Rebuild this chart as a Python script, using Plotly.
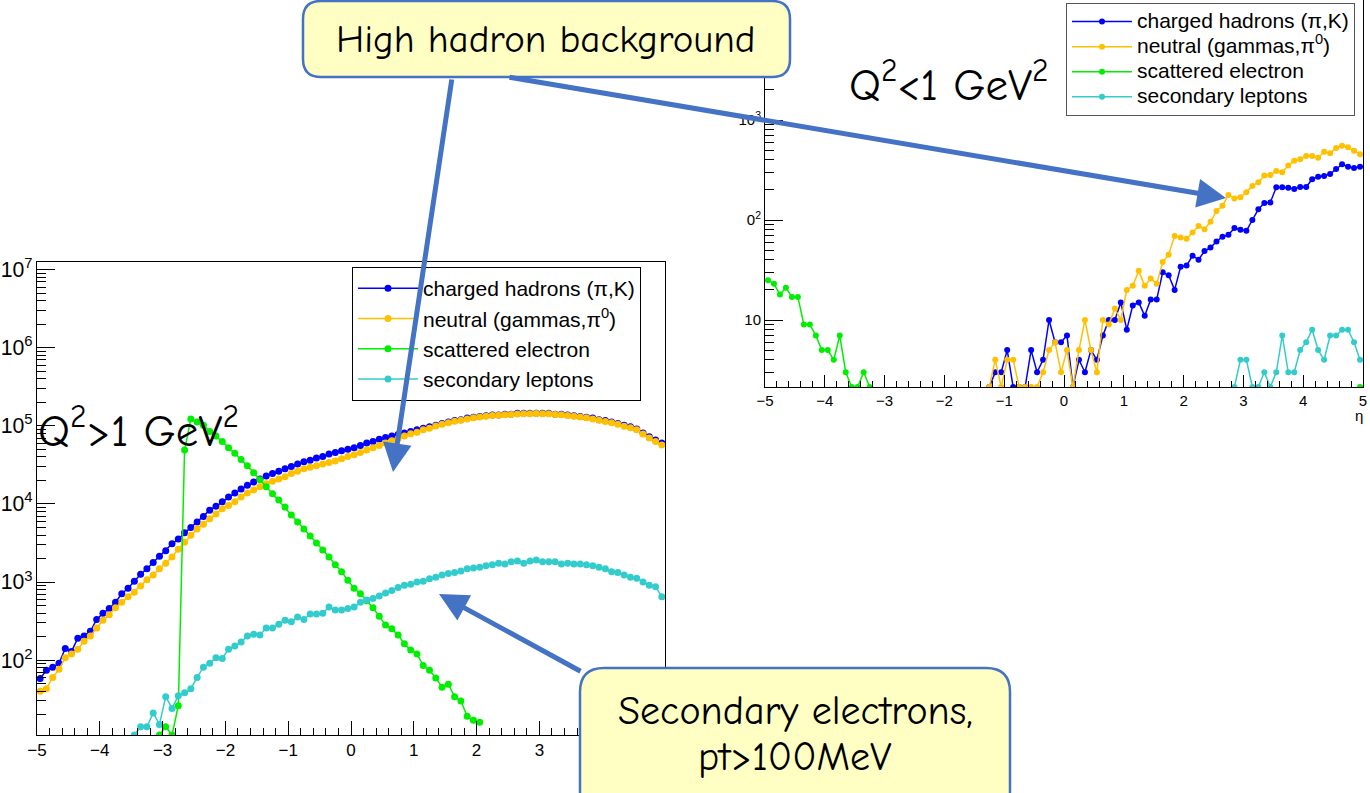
import numpy as np
import plotly.graph_objects as go

# ---------------- data (counts per eta bin, bin width 0.1) ----------------
eta = np.round(np.arange(-4.95, 5.0, 0.1), 2)   # bin centres
N = None

# Q^2 > 1 GeV^2  (left panel)
left_charged = [58, 74, 81, 91, 141, 129, 191, 204, 234, 331,
                398, 457, 550, 708, 832, 1020, 1260, 1480, 1780, 2140,
                2510, 3090, 3550, 4270, 5010, 5890, 6920, 8320, 9330, 10700,
                12300, 13800, 15500, 17400, 19100, 20900, 22900, 24500, 26300, 28200,
                30200, 32400, 34700, 36300, 38900, 40700, 43700, 45700, 47900, 50100,
                52500, 56200, 60300, 63100, 67600, 70800, 74100, 77600, 81300, 85100,
                89100, 93300, 97700, 102000, 107000, 112000, 117000, 120000, 126000, 129000,
                132000, 135000, 138000, 138000, 141000, 141000, 145000, 145000, 145000, 145000,
                145000, 145000, 141000, 141000, 138000, 135000, 132000, 129000, 126000, 120000,
                117000, 112000, 107000, 102000, 97700, 91200, 81300, 72400, 66100, 60300]
left_neutral = [40, 43, 60, 76, 107, 120, 138, 174, 204, 257,
                324, 380, 468, 550, 646, 741, 891, 1070, 1230, 1480,
                1740, 2090, 2630, 3240, 3980, 4790, 5500, 6460, 7410, 8710,
                9550, 10700, 12300, 13800, 15100, 16600, 18200, 19500, 20900, 22400,
                24500, 26300, 28200, 29500, 30900, 32400, 33900, 35500, 38000, 40700,
                42700, 45700, 49000, 52500, 56200, 60300, 64600, 69200, 74100, 79400,
                83200, 89100, 93300, 100000, 105000, 110000, 115000, 118000, 123000, 127000,
                130000, 133000, 136000, 137000, 139000, 140000, 142000, 143000, 143000, 144000,
                143000, 143000, 140000, 139000, 136000, 133000, 130000, 127000, 123000, 118000,
                114000, 110000, 105000, 99000, 95000, 89000, 79000, 70000, 63000, 57000]
left_scattered = [N] * 10 + \
                 [N] * 9 + [10] + \
                 [14, 10, 26, 49000, 123000, 112000, 102000, 85100, 74100, 63100,
                  52500, 44700, 37200, 30900, 25100, 20400, 16600, 13500, 11200, 9120,
                  7240, 5890, 4790, 3890, 3160, 2570, 2090, 1660, 1350, 1050,
                  832, 708, 575, 468, 363, 282, 251, 209, 162, 135,
                  120, 85, 74, 59, 45, 49, 34, 30, 19, 17,
                  16] + [N] * 29
left_secondary = [N] * 10 + \
                 [N] * 5 + [10, 14, 14, 21, 15] + \
                 [34, 24, 35, 38, 43, 60, 81, 91, 107, 105,
                  138, 151, 170, 204, 214, 209, 257, 257, 288, 324,
                  309, 355, 331, 389, 389, 398, 479, 437, 437, 457,
                  479, 550, 589, 617, 661, 724, 776, 851, 912, 933,
                  1000, 1020, 1100, 1150, 1230, 1290, 1320, 1380, 1480, 1510,
                  1550, 1620, 1660, 1740, 1700, 1820, 1860, 1740, 1860, 1910,
                  1820, 1820, 1820, 1700, 1740, 1700, 1700, 1660, 1620, 1550,
                  1480, 1350, 1320, 1230, 1150, 1120, 1000, 912, 871, 646]

# Q^2 < 1 GeV^2  (right panel)
right_charged = [N] * 30 + \
                [N] * 7 + [2, 3, 3] + \
                [5, 2, 2, 2, 5, 3, 4, 10, 6, 6,
                 7, 2, 4, 3, 5, 4, 7, 10, 10, 15,
                 8, 14, 15, 11, 16, 16, 30, 28, 20, 34,
                 35, 44, 40, 49, 53, 61, 68, 71, 83, 80,
                 78, 100, 128, 148, 150, 213, 213, 210, 204, 214,
                 214, 256, 271, 276, 288, 323, 361, 341, 331, 341]
right_neutral = [N] * 30 + \
                [N] * 7 + [2, 4, 2] + \
                [4, 4, 2, 2, 2, 2, 3, 5, 6, 3,
                 5, 2, 5, 10, 5, 3, 10, 9, 13, 10,
                 20, 22, 31, 22, 26, 23, 38, 45, 69, 67,
                 65, 75, 87, 81, 96, 123, 139, 178, 164, 169,
                 189, 219, 238, 278, 282, 309, 300, 350, 392, 405,
                 436, 436, 420, 481, 464, 525, 552, 535, 494, 454]
right_scattered = [25, 23, 18, 21, 17, 17, 9, 9, 7, 5,
                   5, 4, 7, 3, 2, 2, 3, 2, N, N] + [N] * 70 + [N] * 9 + [2]
right_secondary = [N] * 78 + [2, 4] + \
                  [4, 2, 2, 3, 2, 3, 7, 3, 3, 5,
                   6, 8, 5, 4, 7, 7, 8, 8, 6, 4]

series_names = ["charged hadrons (\u03c0,K)", "neutral (gammas,\u03c0<sup>0</sup>)",
                "scattered electron", "secondary leptons"]
series_colors = ["#0000FF", "#FFC000", "#00EE00", "#33CCCC"]

left_ylog = [1.04, 7.10]
right_ylog = [0.33, 4.20]
right_ticks = [10, 100, 1000]
right_ticktext = ["10", "0<sup>2</sup>", "10<sup>3</sup>"]

# ---------------- geometry helpers ----------------
W, H = 1370, 793
def fx(x):
    return x / W
def fy(y):
    return 1 - y / H

def floor_to(vals, lo_log):
    lo = 10 ** lo_log
    return [None if v is None else max(v, lo) for v in vals]

fig = go.Figure()

for vals, name, col in zip([left_charged, left_neutral, left_scattered, left_secondary],
                           series_names, series_colors):
    fig.add_trace(go.Scatter(x=eta, y=floor_to(vals, left_ylog[0]), name=name,
                             mode="lines+markers", connectgaps=False,
                             line=dict(color=col, width=1.5),
                             marker=dict(color=col, size=7),
                             xaxis="x", yaxis="y", legend="legend"))
for vals, name, col in zip([right_charged, right_neutral, right_scattered, right_secondary],
                           series_names, series_colors):
    fig.add_trace(go.Scatter(x=eta, y=floor_to(vals, right_ylog[0]),
                             name="<span style='font-size:21px'>" + name + "</span>",
                             mode="lines+markers", connectgaps=False,
                             line=dict(color=col, width=1.5),
                             marker=dict(color=col, size=6),
                             xaxis="x2", yaxis="y2", legend="legend2"))

tickfont_l = dict(family="Liberation Sans, Arial, sans-serif", size=17, color="black")
tickfont_r = dict(family="Liberation Sans, Arial, sans-serif", size=15, color="black")
base = dict(showline=True, linecolor="black", linewidth=1, mirror=True, automargin=False,
            ticks="inside", tickcolor="black", showgrid=False, zeroline=False)

fig.update_layout(
    width=W, height=H, margin=dict(l=0, r=0, t=0, b=0, pad=0, autoexpand=False),
    paper_bgcolor="white", plot_bgcolor="white",
    xaxis=dict(domain=[fx(37), fx(665)], range=[-5, 5], tick0=0, dtick=1, ticklen=14,
               minor=dict(ticks="inside", dtick=0.2, ticklen=7, tickcolor="black"),
               tickfont=tickfont_l, anchor="y", **base),
    yaxis=dict(domain=[fy(735), fy(262)], type="log", range=left_ylog, dtick=1,
               exponentformat="power", ticklen=18,
               minor=dict(ticks="inside", dtick="D1", ticklen=9, tickcolor="black"),
               tickfont=tickfont_l, anchor="x", **base),
    xaxis2=dict(domain=[fx(765), fx(1363)], range=[-5, 5], tick0=0, dtick=1, ticklen=12,
                minor=dict(ticks="inside", dtick=0.2, ticklen=6, tickcolor="black"),
                tickfont=tickfont_r, anchor="y2", **base),
    yaxis2=dict(domain=[fy(387), fy(0)], type="log", range=right_ylog,
                tickmode="array", tickvals=right_ticks, ticktext=right_ticktext, ticklen=18,
                minor=dict(ticks="inside", dtick="D1", ticklen=9, tickcolor="black"),
                tickfont=tickfont_r, anchor="x2", **base),
    legend=dict(x=fx(352), y=fy(267), xanchor="left", yanchor="top",
                bgcolor="white", bordercolor="black", borderwidth=1,
                font=dict(family="Liberation Sans, Arial, sans-serif", size=21, color="black"),
                itemwidth=60, tracegroupgap=0),
    legend2=dict(x=fx(1066), y=fy(3), xanchor="left", yanchor="top",
                 bgcolor="white", bordercolor="#555555", borderwidth=1,
                 font=dict(family="Liberation Sans, Arial, sans-serif", size=17, color="black"),
                 itemwidth=60, tracegroupgap=0),
    showlegend=True,
)

# ---------------- callout boxes ----------------
def rounded_rect(x0, y0, x1, y1, r):
    X0, X1 = fx(x0), fx(x1)
    Y0, Y1 = fy(y0), fy(y1)
    rx, ry = r / W, r / H
    return (f"M {X0+rx},{Y0} L {X1-rx},{Y0} Q {X1},{Y0} {X1},{Y0-ry} "
            f"L {X1},{Y1+ry} Q {X1},{Y1} {X1-rx},{Y1} L {X0+rx},{Y1} "
            f"Q {X0},{Y1} {X0},{Y1+ry} L {X0},{Y0-ry} Q {X0},{Y0} {X0+rx},{Y0} Z")

box_fill = "#FFFFC4"
box_line = "#4472C4"
fig.add_shape(type="path", xref="paper", yref="paper", layer="above",
              path=rounded_rect(303, 1, 790, 77, 18),
              fillcolor=box_fill, line=dict(color=box_line, width=2.5))
fig.add_shape(type="path", xref="paper", yref="paper", layer="above",
              path=rounded_rect(580, 668, 1010, 815, 24),
              fillcolor=box_fill, line=dict(color=box_line, width=2.5))

comic = "Comic Sans MS, Comic Neue, Noto Sans, sans-serif"
def label(x, y, text, size, xanchor="center", family=comic):
    return dict(x=fx(x), y=fy(y), xref="paper", yref="paper", showarrow=False,
                xanchor=xanchor, yanchor="middle", text=text,
                font=dict(family=family, size=size, color="black"))

ann = [
    label(546, 39, "High hadron background", 39),
    label(795, 711, "Secondary electrons,", 40),
    label(795, 757, "pt>100MeV", 40),
    label(36, 428, "Q<sup>2</sup>>1 GeV<sup>2</sup>", 45, xanchor="left"),
    label(847, 82, "Q<sup>2</sup><1 GeV<sup>2</sup>", 45, xanchor="left"),
    label(1359, 415, "\u03b7", 15, family="Liberation Sans, Arial"),
]

# arrows: (tail px) -> (tip px)
arrows = [((452, 78), (393, 472)), ((508, 77), (1226, 198)), ((582, 672), (439, 594))]
for (tx, ty), (hx, hy) in arrows:
    ann.append(dict(x=fx(hx), y=fy(hy), xref="paper", yref="paper", text="",
                    showarrow=True, ax=tx - hx, ay=ty - hy, axref="pixel", ayref="pixel",
                    arrowhead=2, arrowsize=1.15, arrowwidth=5, arrowcolor=box_line,
                    standoff=0, startstandoff=0))
fig.update_layout(annotations=ann)

fig.write_html("out.html")
